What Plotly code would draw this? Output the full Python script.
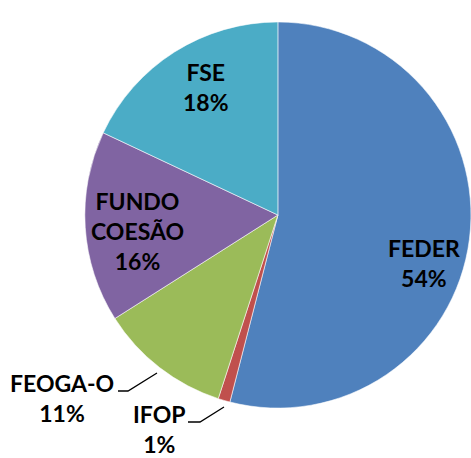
import plotly.graph_objects as go

W, H = 471, 458

labels = ["FEDER", "IFOP", "FEOGA-O", "FUNDO COESÃO", "FSE"]
values = [54, 1, 11, 16, 18]
colors = ["#4F81BD", "#C0504D", "#9BBB59", "#8064A2", "#4BACC6"]
label_text = ["FEDER", "IFOP", "FEOGA-O", "FUNDO<br>COESÃO", "FSE"]

# label centre positions in pixels (x, y)
label_pos = [(424, 263), (159, 429), (62, 398), (137, 231), (206, 87)]

def px(x):
    return x / W

def py(y):
    return 1 - y / H

fig = go.Figure()
fig.add_trace(go.Pie(
    labels=labels,
    values=values,
    marker=dict(colors=colors, line=dict(color="rgba(255,255,255,0.7)", width=0.8)),
    sort=False,
    direction="clockwise",
    rotation=0,
    textinfo="none",
    hoverinfo="label+percent",
    showlegend=False,
    domain=dict(x=[0.18, 1.0], y=[0.109, 0.952]),
))

FONT = "Lato"
for lab, val, (x, y) in zip(label_text, values, label_pos):
    fig.add_annotation(
        x=px(x), y=py(y), xref="paper", yref="paper",
        text=f"<b>{lab}<br>{val}%</b>",
        showarrow=False, xanchor="center", yanchor="middle", align="center",
        font=dict(family=FONT, size=23, color="#000000"),
        borderpad=0,
    )

def path(points):
    d = "M " + " L ".join(f"{px(x)},{py(y)}" for x, y in points)
    return d

for pts in [[(118, 391), (128, 391), (157, 373)], [(188, 422), (200, 422), (224, 407)]]:
    fig.add_shape(type="path", xref="paper", yref="paper", path=path(pts),
                  line=dict(color="#000000", width=1.3))

fig.update_layout(
    width=W, height=H,
    margin=dict(l=0, r=0, t=0, b=0),
    paper_bgcolor="#FFFFFF",
    plot_bgcolor="#FFFFFF",
)

fig.write_html(
    "out.html",
    config={"displayModeBar": False},
    post_script="document.body.style.margin='0';document.body.style.overflow='hidden';",
)
